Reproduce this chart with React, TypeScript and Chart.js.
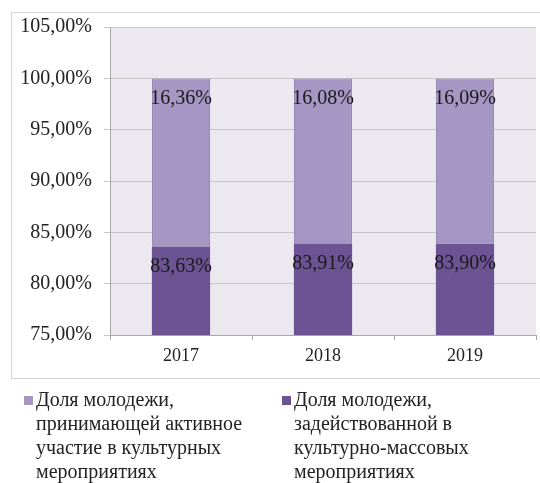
import React, { useEffect, useRef } from "react";
import { Chart, registerables } from "chart.js";

Chart.register(...registerables);

const categories = ["2017", "2018", "2019"];
const activeShare = [16.36, 16.08, 16.09];
const massShare = [83.63, 83.91, 83.9];
const seriesNames = [
  "Доля молодежи,\nпринимающей активное\nучастие в культурных\nмероприятиях",
  "Доля молодежи,\nзадействованной в\nкультурно-массовых\nмероприятиях",
];
const yTicks = [75, 80, 85, 90, 95, 100, 105];

const FONT = "'Liberation Serif', 'Times New Roman', serif";
const TEXT = "#222222";
const LIGHT = "#a596c3";
const DARK = "#6c5494";

const fmt = (v: number) => v.toFixed(2).replace(".", ",") + "%";

const framePlugin = {
  id: "frame",
  beforeDraw(chart: any) {
    const { ctx, chartArea } = chart;
    ctx.save();
    ctx.fillStyle = "#ffffff";
    ctx.fillRect(0, 0, chart.width, chart.height);
    ctx.strokeStyle = "#d4d4d4";
    ctx.lineWidth = 1;
    ctx.strokeRect(11.5, 12.5, chart.width + 20, 366);
    ctx.fillStyle = "#ebe9ef";
    ctx.fillRect(chartArea.left, chartArea.top, chartArea.right - chartArea.left, chartArea.bottom - chartArea.top);
    ctx.restore();
  },
};

const labelPlugin = {
  id: "valueLabels",
  afterDatasetsDraw(chart: any) {
    const { ctx } = chart;
    ctx.save();
    ctx.font = `20px ${FONT}`;
    ctx.fillStyle = "#1a1a1a";
    ctx.textAlign = "center";
    ctx.textBaseline = "middle";
    chart.data.datasets.forEach((ds: any, di: number) => {
      const meta = chart.getDatasetMeta(di);
      meta.data.forEach((bar: any, i: number) => {
        ctx.fillText(fmt(ds.data[i]), bar.x, bar.y + 20);
      });
    });
    ctx.restore();
  },
};

const legendPlugin = {
  id: "wrapLegend",
  afterDraw(chart: any) {
    const { ctx } = chart;
    const items = [
      { x: 24, color: LIGHT, name: seriesNames[0] },
      { x: 282, color: DARK, name: seriesNames[1] },
    ];
    ctx.save();
    ctx.font = `20px ${FONT}`;
    ctx.textBaseline = "middle";
    ctx.textAlign = "left";
    items.forEach((it) => {
      ctx.fillStyle = it.color;
      ctx.fillRect(it.x, 396, 9, 9);
      ctx.fillStyle = TEXT;
      it.name.split("\n").forEach((line, li) => {
        ctx.fillText(line, it.x + 12, 401 + li * 23.8);
      });
    });
    ctx.restore();
  },
};

export default function App() {
  const ref = useRef<HTMLCanvasElement>(null);
  useEffect(() => {
    if (!ref.current) return;
    const chart = new Chart(ref.current, {
      type: "bar",
      data: {
        labels: categories,
        datasets: [
          {
            label: seriesNames[1],
            data: massShare,
            backgroundColor: DARK,
            borderWidth: 0,
          },
          {
            label: seriesNames[0],
            data: activeShare,
            backgroundColor: LIGHT,
            borderColor: "#8e7eb2",
            borderWidth: 1,
          },
        ],
      },
      options: {
        responsive: false,
        animation: false,
        layout: { padding: { left: 0, top: 27, right: 4, bottom: 105 } },
        datasets: { bar: { categoryPercentage: 1, barPercentage: 0.41 } },
        plugins: { legend: { display: false }, tooltip: { enabled: false } },
        scales: {
          x: {
            stacked: true,
            afterFit: (s: any) => {
              s.height = 43;
            },
            grid: { offset: true, drawOnChartArea: false, drawTicks: true, tickLength: 5, color: "#a8a8a8" },
            border: { display: true, color: "#a8a8a8" },
            ticks: { font: { family: FONT, size: 18 }, color: TEXT, padding: 5 },
          },
          y: {
            stacked: true,
            min: 75,
            max: 105,
            afterFit: (s: any) => {
              s.width = 110;
            },
            afterBuildTicks: (s: any) => {
              s.ticks = yTicks.map((v) => ({ value: v }));
            },
            grid: { color: "#c6c6c6", tickLength: 6, drawTicks: true },
            border: { display: true, color: "#a8a8a8" },
            ticks: {
              font: { family: FONT, size: 20 },
              color: TEXT,
              padding: 12,
              callback: (v: any) => fmt(Number(v)),
            },
          },
        },
      },
      plugins: [framePlugin, labelPlugin, legendPlugin],
    });
    return () => chart.destroy();
  }, []);
  return (
    <div style={{ position: "absolute", left: 0, top: 0, width: 540, height: 483, overflow: "hidden", background: "#fff" }}>
      <canvas ref={ref} width={540} height={483} style={{ display: "block", width: 540, height: 483 }} />
    </div>
  );
}
